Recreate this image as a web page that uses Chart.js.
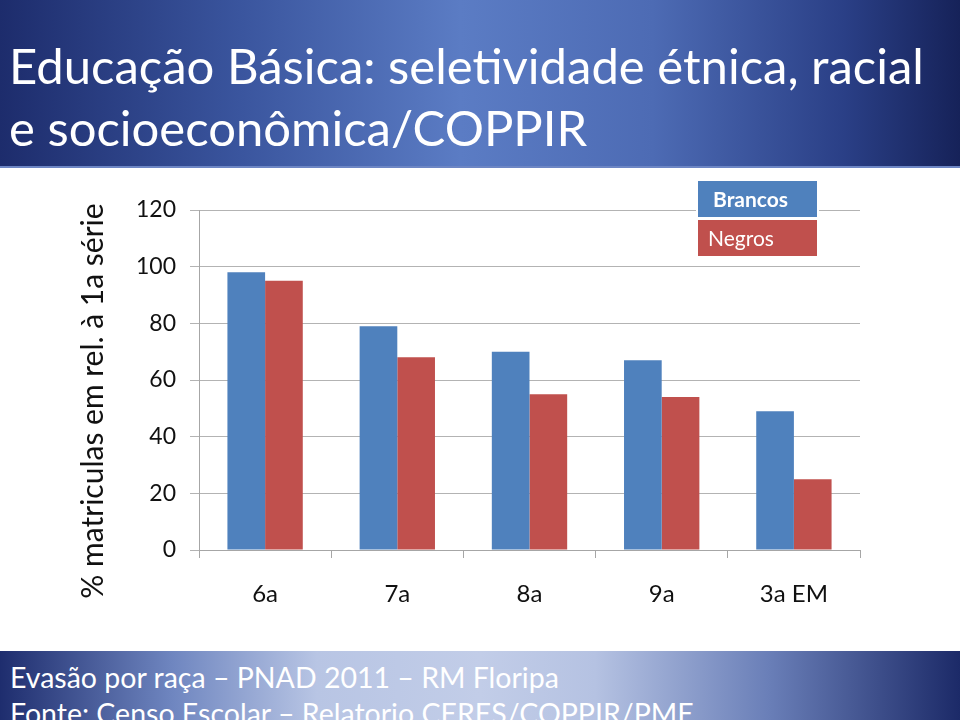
<!DOCTYPE html>
<html>
<head>
<meta charset="utf-8">
<script src="https://cdn.jsdelivr.net/npm/chart.js@4/dist/chart.umd.min.js"></script>
<style>
  html, body { margin: 0; padding: 0; background: #fff; }
  body { width: 960px; height: 720px; position: relative; overflow: hidden; font-family: Lato, "Noto Sans", sans-serif; }
  #top {
    position: absolute; left: 0; top: 0; width: 960px; height: 166px;
    background: linear-gradient(to right, #1d2c6c 0%, #3a559e 25%, #5b7cc4 48%, #4d6bb4 68%, #2a3f86 88%, #162259 100%);
    border-bottom: 2px solid #6d86c4;
  }
  #top h1 {
    margin: 0; position: absolute; left: 9px; top: 34px;
    color: #fff; font-weight: normal; font-size: 49px; line-height: 62px; white-space: nowrap;
  }
  #bottom {
    position: absolute; left: 0; top: 651px; width: 960px; height: 69px;
    background: linear-gradient(to right, #1e2d6e 0%, #6f86c0 18%, #b8c5e4 33%, #c2cde8 50%, #b5c2e2 62%, #6a7fb8 80%, #1c2a68 100%);
  }
  #bottom p {
    margin: 0; position: absolute; left: 10px; top: 8px; color: #fff;
    font-size: 28.5px; line-height: 36px; white-space: nowrap;
  }
  #wrap { position: absolute; left: 0; top: 0; width: 960px; height: 720px; }
</style>
</head>
<body>
<div id="top"><h1>Educação Básica: seletividade étnica, racial<br>e socioeconômica/COPPIR</h1></div>
<div id="bottom"><p>Evasão por raça – PNAD 2011 – RM Floripa<br>Fonte: Censo Escolar – Relatorio CERES/COPPIR/PME</p></div>
<div id="wrap"><canvas id="myChart" width="960" height="720"></canvas></div>
<script>
var categories = ["6a", "7a", "8a", "9a", "3a EM"];
var brancos = [98, 79, 70, 67, 49];
var negros = [95, 68, 55, 54, 25];
var yTicks = [0, 20, 40, 60, 80, 100, 120];
var yTitle = "% matriculas em rel. à 1a série";

var font = "Lato, 'Noto Sans', sans-serif";

// legend drawn as coloured boxes with white text, like the slide
var boxLegend = {
  id: "boxLegend",
  afterDraw(chart) {
    var ctx = chart.ctx;
    var x = 698, w = 119, h = 36;
    var ys = [181, 220];
    var offs = [15, 10];
    ctx.save();
    chart.data.datasets.forEach((ds, i) => {
      ctx.fillStyle = "#fff";
      ctx.fillRect(x - 2, ys[i] - 2, w + 4, h + 4);
      ctx.fillStyle = ds.backgroundColor;
      ctx.fillRect(x, ys[i], w, h);
      ctx.fillStyle = "#fff";
      ctx.font = (i == 0 ? "bold " : "") + "21px " + font;
      ctx.textBaseline = "middle";
      ctx.fillText(ds.label, x + offs[i], ys[i] + h / 2 + 1);
    });
    // rotated y title
    ctx.translate(93, 401);
    ctx.rotate(-Math.PI / 2);
    ctx.fillStyle = "#111";
    ctx.font = "30px " + font;
    ctx.textAlign = "center";
    ctx.textBaseline = "middle";
    ctx.fillText(yTitle, 0, 0);
    ctx.restore();
  }
};

var ctx = document.getElementById("myChart");

new Chart(ctx, {
  type: "bar",
  data: {
    labels: categories,
    datasets: [
      { label: "Brancos", data: brancos, backgroundColor: "#4f81bd", categoryPercentage: 0.57, barPercentage: 1 },
      { label: "Negros", data: negros, backgroundColor: "#c0504d", categoryPercentage: 0.57, barPercentage: 1 },
    ],
  },
  options: {
    responsive: false,
    animation: false,
    layout: { padding: { left: 0, top: 210, right: 100, bottom: 110 } },
    plugins: { legend: { display: false }, tooltip: { enabled: false } },
    scales: {
      x: {
        grid: { drawOnChartArea: false, color: "#a6a6a6", tickLength: 8, offset: true },
        border: { color: "#a6a6a6" },
        ticks: { color: "#111", font: { family: font, size: 24 }, padding: 22 },
        afterFit(scale) { scale.height = 60; },
      },
      y: {
        min: 0,
        max: 120,
        afterBuildTicks(scale) { scale.ticks = yTicks.map((v) => ({ value: v })); },
        grid: { color: "#b3b3b3", tickLength: 9 },
        border: { color: "#a6a6a6" },
        ticks: { color: "#111", font: { family: font, size: 23 }, padding: 14 },
        afterFit(scale) { scale.width = 199; },
      },
    },
  },
  plugins: [boxLegend],
});
</script>
</body>
</html>
